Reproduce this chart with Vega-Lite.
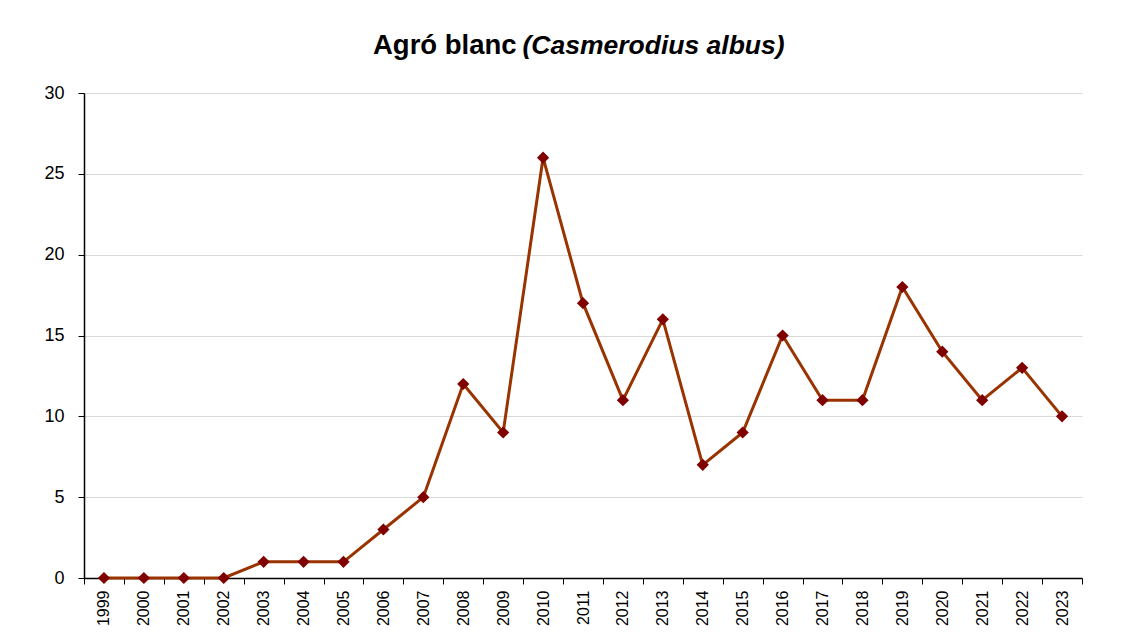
{
  "$schema": "https://vega.github.io/schema/vega-lite/v6.json",
  "width": 998,
  "height": 485,
  "autosize": {"type": "none"},
  "padding": {"left": 84, "top": 93, "right": 52, "bottom": 65},
  "background": "white",
  "title": {
    "text": "Agró blanc",
    "anchor": "start",
    "frame": "group",
    "dx": 289,
    "dy": 59,
    "offset": 32,
    "font": "Liberation Sans",
    "fontSize": 27.5,
    "fontWeight": "bold",
    "color": "black"
  },
  "data": {
    "values": [
      {"year": "1999", "count": 0},
      {"year": "2000", "count": 0},
      {"year": "2001", "count": 0},
      {"year": "2002", "count": 0},
      {"year": "2003", "count": 1},
      {"year": "2004", "count": 1},
      {"year": "2005", "count": 1},
      {"year": "2006", "count": 3},
      {"year": "2007", "count": 5},
      {"year": "2008", "count": 12},
      {"year": "2009", "count": 9},
      {"year": "2010", "count": 26},
      {"year": "2011", "count": 17},
      {"year": "2012", "count": 11},
      {"year": "2013", "count": 16},
      {"year": "2014", "count": 7},
      {"year": "2015", "count": 9},
      {"year": "2016", "count": 15},
      {"year": "2017", "count": 11},
      {"year": "2018", "count": 11},
      {"year": "2019", "count": 18},
      {"year": "2020", "count": 14},
      {"year": "2021", "count": 11},
      {"year": "2022", "count": 13},
      {"year": "2023", "count": 10}
    ]
  },
  "layer": [
    {
      "mark": {"type": "line", "color": "#993300", "strokeWidth": 3},
      "encoding": {
        "x": {
          "field": "year",
          "type": "ordinal",
          "scale": {"type": "band", "paddingInner": 0, "paddingOuter": 0},
          "axis": {
            "orient": "bottom",
            "title": null,
            "labelAngle": -90,
            "labelAlign": "right",
            "labelBaseline": "middle",
            "labelPadding": 6,
            "labelFont": "Liberation Sans",
            "labelFontSize": 16,
            "labelColor": "black",
            "tickBand": "extent",
            "tickSize": 6,
            "tickColor": "black",
            "domainColor": "black",
            "domainWidth": 1.5,
            "grid": false
          }
        },
        "y": {
          "field": "count",
          "type": "quantitative",
          "scale": {"domain": [0, 30], "nice": false},
          "axis": {
            "title": null,
            "values": [0, 5, 10, 15, 20, 25, 30],
            "labelFont": "Liberation Sans",
            "labelFontSize": 18,
            "labelColor": "black",
            "labelPadding": 14,
            "tickSize": 6,
            "tickColor": "black",
            "domainColor": "black",
            "domainWidth": 1.5,
            "grid": true,
            "gridColor": "#d9d9d9",
            "gridWidth": 1
          }
        }
      }
    },
    {
      "mark": {"type": "point", "shape": "diamond", "filled": true, "color": "#800000", "size": 150, "opacity": 1},
      "encoding": {
        "x": {
          "field": "year",
          "type": "ordinal",
          "scale": {"type": "band", "paddingInner": 0, "paddingOuter": 0},
          "axis": {
            "orient": "top",
            "labels": false,
            "ticks": false,
            "domain": false,
            "grid": false,
            "title": "(Casmerodius albus)",
            "titleX": 438,
            "titleY": -40,
            "titleAlign": "left",
            "titleAnchor": null,
            "titleBaseline": "alphabetic",
            "titleFont": "Liberation Sans",
            "titleFontSize": 26.5,
            "titleFontWeight": "bold",
            "titleFontStyle": "italic",
            "titleColor": "black"
          }
        },
        "y": {"field": "count", "type": "quantitative"}
      }
    }
  ],
  "resolve": {"axis": {"x": "independent"}},
  "config": {"view": {"stroke": null}}
}
